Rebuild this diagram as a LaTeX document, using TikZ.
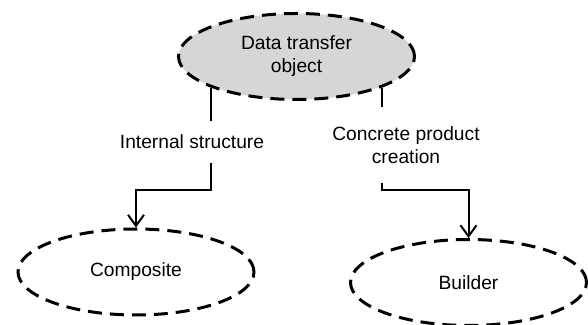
\documentclass[tikz,border=0pt]{standalone}
\usepackage{fontspec}
\setmainfont{Liberation Sans}
\usetikzlibrary{shapes.geometric,arrows.meta}
\definecolor{dtofill}{HTML}{D6D6D6}
\begin{document}
\begin{tikzpicture}[x=0.5pt, y=-0.5pt, line width=1pt,
  font=\fontsize{9.6}{11.5}\selectfont,
  main/.style = {draw, ellipse, line width=1.5pt, dash pattern=on 7pt off 4pt, minimum width=118pt, minimum height=43pt, inner sep=0pt, align=center},
  lbl/.style = {align=center, inner sep=0pt},
  >={Straight Barb[length=5.5pt,width=8pt]}]
  \useasboundingbox (0,0) rectangle (588,325);
  \node[main,fill=dtofill] (dto) at (296.5,56.5) {Data transfer\\object};
  \node[main] (comp) at (136,272) {Composite};
  \node[main] (build) at (468.5,282.5) {Builder};
  \node[lbl,minimum height=20pt] (lint) at (192,142) {Internal structure};
  \node[lbl,minimum height=37pt] (lcon) at (406,145) {Concrete product\\creation};
  \coordinate (jA) at (136,190);
  \coordinate (jB) at (468.5,190);
  \draw (dto.200) -- (dto.200 |- lint.north);
  \draw[->] (dto.200 |- lint.south) |- (jA) -- (comp.north);
  \draw (dto.340) -- (dto.340 |- lcon.north);
  \draw[->] (dto.340 |- lcon.south) |- (jB) -- (build.north);
\end{tikzpicture}
\end{document}
